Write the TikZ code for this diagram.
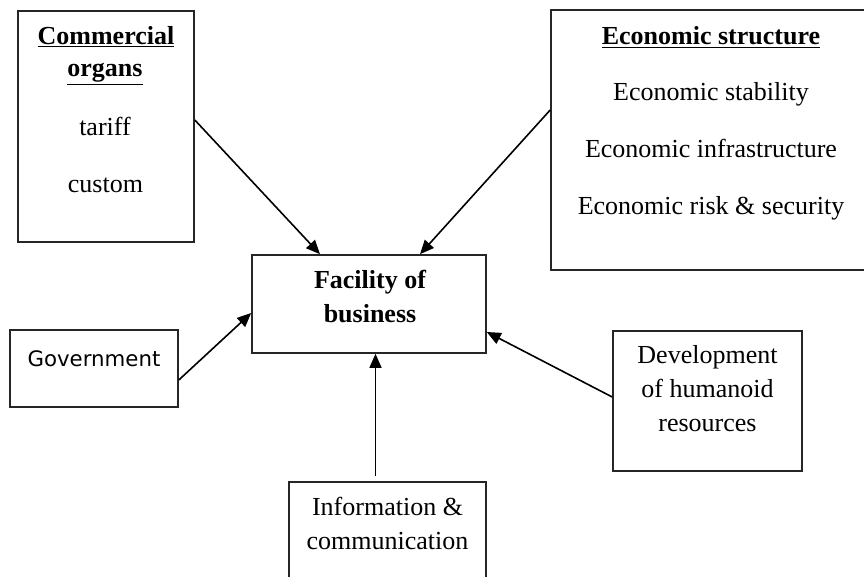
\documentclass[tikz,border=0pt]{standalone}
\usepackage{fontspec}
\setmainfont{Liberation Serif}
\newfontfamily\govfont{DejaVu Sans}
\usetikzlibrary{arrows.meta}
\tikzset{
  box/.style={draw=black!85, line width=1.6pt, rectangle, inner sep=0pt},
  txt/.style={anchor=base, inner sep=0pt, font=\fontsize{26}{30}\selectfont},
  hd/.style={txt, font=\fontsize{26}{30}\selectfont\bfseries},
  gtxt/.style={anchor=base, inner sep=0pt, font=\govfont\fontsize{21.3}{24}\selectfont},
  arr/.style={line width=1.6pt, -{Triangle[length=14pt,width=12pt]}}
}
\begin{document}
\begin{tikzpicture}[x=1pt,y=-1pt]
\useasboundingbox (0,0) rectangle (864,577);
% boxes
\node[box, minimum width=176pt, minimum height=231pt] (com) at (106,126.5) {};
\node[box, minimum width=320pt, minimum height=260pt] (econ) at (711,140) {};
\node[box, minimum width=234pt, minimum height=98pt] (fac) at (369,304) {};
\node[box, minimum width=168pt, minimum height=77pt] (gov) at (94,368.5) {};
\node[box, minimum width=197pt, minimum height=120pt] (info) at (387.5,542) {};
\node[box, minimum width=189pt, minimum height=140pt] (dev) at (707.5,401) {};
% texts
\node[hd] (t1) at (106,45) {\underline{Commercial}};
\node[hd] (t2) at (105,77) {\underline{organs}};
\node[txt] (t3) at (105,136) {tariff};
\node[txt] (t4) at (105.5,193) {custom};
\node[hd] (t5) at (711,45) {\underline{Economic structure}};
\node[txt] (t6) at (711,101) {Economic stability};
\node[txt] (t7) at (711,158) {Economic infrastructure};
\node[txt] (t8) at (711,215) {Economic risk \& security};
\node[hd] (t9) at (370,288) {Facility of};
\node[hd] (t10) at (370,322) {business};
\node[gtxt] (t11) at (94,366) {Government};
\node[txt] (t12) at (387.5,515) {Information \&};
\node[txt] (t13) at (387.5,549) {communication};
\node[txt] (t14) at (707.5,363) {Development};
\node[txt] (t15) at (707.5,397) {of humanoid};
\node[txt] (t16) at (707.5,431) {resources};
% arrows
\draw[arr] ([yshift=6.5pt]com.east) -- ([xshift=-49pt]fac.north);
\draw[arr] ([yshift=30pt]econ.west) -- ([xshift=51pt]fac.north);
\draw[arr] ([yshift=-11.5pt]gov.east) -- ([yshift=-9pt]fac.west);
\draw[arr] ([xshift=-12pt,yshift=5pt]info.north) -- ([xshift=6.5pt]fac.south);
\draw[arr] ([yshift=4pt]dev.west) -- ([yshift=-28pt]fac.east);
\end{tikzpicture}
\end{document}
